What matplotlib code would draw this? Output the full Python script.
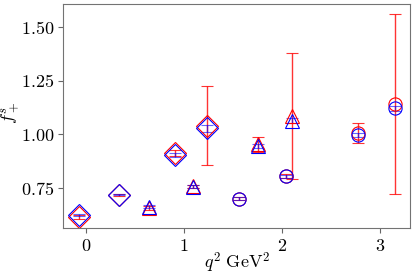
import numpy as np
import matplotlib.pyplot as plt

plt.rcParams["mathtext.fontset"] = "cm"
plt.rcParams["font.family"] = "serif"
plt.rcParams["font.serif"] = ["DejaVu Serif"]

# q^2 positions for each marker group
x_diamond = [-0.07, 0.33, 0.91, 1.23]
x_triangle = [0.64, 1.09, 1.76, 2.10]
x_circle = [1.56, 2.04, 2.78, 3.15]

# red set
red_diamond = [0.615, 0.715, 0.912, 1.040]
red_diamond_err = [0.010, 0.004, 0.012, 0.185]
red_triangle = [0.655, 0.757, 0.952, 1.085]
red_triangle_err = [0.010, 0.008, 0.035, 0.295]
red_circle = [0.700, 0.805, 1.005, 1.140]
red_circle_err = [0.008, 0.010, 0.045, 0.420]

# blue set
blue_diamond = [0.622, 0.718, 0.903, 1.027]
blue_diamond_err = [0.004, 0.003, 0.008, 0.015]
blue_triangle = [0.662, 0.755, 0.945, 1.062]
blue_triangle_err = [0.008, 0.006, 0.010, 0.012]
blue_circle = [0.700, 0.803, 0.995, 1.120]
blue_circle_err = [0.006, 0.006, 0.010, 0.012]

fig, ax = plt.subplots(figsize=(4.16, 2.76), dpi=100)

groups = [
    ("D", 11, x_diamond, red_diamond, red_diamond_err, blue_diamond, blue_diamond_err),
    ("^", 10, x_triangle, red_triangle, red_triangle_err, blue_triangle, blue_triangle_err),
    ("o", 9.5, x_circle, red_circle, red_circle_err, blue_circle, blue_circle_err),
]
for m, ms, x, ry, re, by, be in groups:
    ax.errorbar(x, ry, yerr=re, fmt=m, ms=ms, mfc="none", mec="red", mew=0.8,
                ecolor=(1, 0, 0, 0.8), elinewidth=1.0, capsize=4.5, capthick=1.0)
    ax.errorbar(x, by, yerr=be, fmt=m, ms=ms, mfc="none", mec="blue", mew=0.8,
                ecolor=(0, 0, 1, 0.6), elinewidth=1.0, capsize=4.5, capthick=1.0)

ax.set_xlim(-0.235, 3.31)
ax.set_ylim(0.563, 1.607)
ax.set_xticks([0, 1, 2, 3])
ax.set_xticklabels([r"$0$", r"$1$", r"$2$", r"$3$"])
ax.set_yticks([0.75, 1.00, 1.25, 1.50])
ax.set_yticklabels([r"$0.75$", r"$1.00$", r"$1.25$", r"$1.50$"])
ax.tick_params(labelsize=13, color="0.4", pad=3)
for s in ax.spines.values():
    s.set_color("0.45")
ax.set_xlabel(r"$q^2\ \mathrm{GeV}^2$", fontsize=13)
ax.set_ylabel(r"$f_+^s$", fontsize=13)
ax.xaxis.set_label_coords(0.5, -0.1)
ax.yaxis.set_label_coords(-0.118, 0.513)

fig.subplots_adjust(left=0.152, right=0.986, top=0.986, bottom=0.174)
fig.savefig("out.png")
